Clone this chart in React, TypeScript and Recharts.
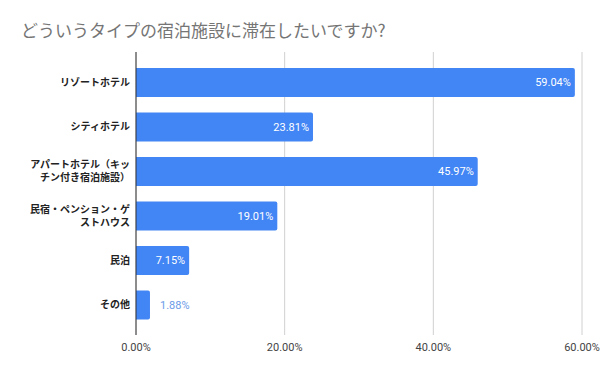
import React from "react"
import { BarChart, Bar, XAxis, YAxis, CartesianGrid, LabelList, ReferenceLine } from "recharts"

const categories = [
  "リゾートホテル",
  "シティホテル",
  "アパートホテル（キッチン付き宿泊施設）",
  "民宿・ペンション・ゲストハウス",
  "民泊",
  "その他",
]
const shares = [59.04, 23.81, 45.97, 19.01, 7.15, 1.88]
const xTicks = [0, 20, 40, 60]
const title = "どういうタイプの宿泊施設に滞在したいですか?"

const data = categories.map((name, i) => ({ name, value: shares[i] }))

const jpFont = "'Noto Sans CJK JP', 'Noto Sans', sans-serif"
const numFont = "Roboto, 'Noto Sans', sans-serif"

// wrap long category names at 10 characters, like the original
function wrap(label: string, size = 10) {
  const lines: string[] = []
  for (let i = 0; i < label.length; i += size) lines.push(label.slice(i, i + size))
  return lines
}

function CategoryTick(props: any) {
  const { x, y, payload } = props
  const lines = wrap(String(payload.value))
  const lh = 13
  const start = -((lines.length - 1) * lh) / 2
  return (
    <g>
      {lines.map((l, i) => (
        <text
          key={i}
          x={x + 2}
          y={y + start + i * lh}
          dy="0.35em"
          textAnchor="end"
          fontFamily={jpFont}
          fontSize={10}
          fontWeight={700}
          fill="#222"
        >
          {l}
        </text>
      ))}
    </g>
  )
}

function ValueLabel(props: any) {
  const { x, y, width, height, value } = props
  const text = `${Number(value).toFixed(2)}%`
  const cy = y + height / 2
  if (width < 40) {
    return (
      <text x={x + width + 10} y={cy} dy="0.35em" fontFamily={numFont} fontSize={11} fill="#6a9be8">
        {text}
      </text>
    )
  }
  return (
    <text x={x + width - 4} y={cy} dy="0.35em" textAnchor="end" fontFamily={numFont} fontSize={11} fill="#fff">
      {text}
    </text>
  )
}

export default function App() {
  return (
    <div style={{ position: "absolute", left: 0, top: 0, width: 600, height: 371, background: "#fff" }}>
      <div
        style={{
          position: "absolute",
          left: 21,
          top: 17,
          fontFamily: jpFont,
          fontSize: 17,
          color: "#757575",
          whiteSpace: "nowrap",
        }}
      >
        {title}
      </div>
      <BarChart
        width={600}
        height={371}
        data={data}
        layout="vertical"
        margin={{ top: 52, right: 18, bottom: 6, left: 0 }}
      >
        <CartesianGrid horizontal={false} stroke="#d0d0d0" />
        <XAxis
          type="number"
          domain={[0, 60]}
          ticks={xTicks}
          tickFormatter={(v: number) => `${v.toFixed(2)}%`}
          axisLine={false}
          tickLine={false}
          height={30}
          tick={{ fontFamily: numFont, fontSize: 11, fill: "#444" }}
        />
        <YAxis
          type="category"
          dataKey="name"
          width={136}
          axisLine={false}
          tickLine={false}
          padding={{ top: 8, bottom: 8 }}
          tick={<CategoryTick />}
          interval={0}
        />
        <ReferenceLine x={0} stroke="#333" />
        <Bar dataKey="value" fill="#4285f4" barSize={29} radius={[0, 2, 2, 0]} isAnimationActive={false}>
          <LabelList dataKey="value" content={<ValueLabel />} />
        </Bar>
      </BarChart>
    </div>
  )
}
